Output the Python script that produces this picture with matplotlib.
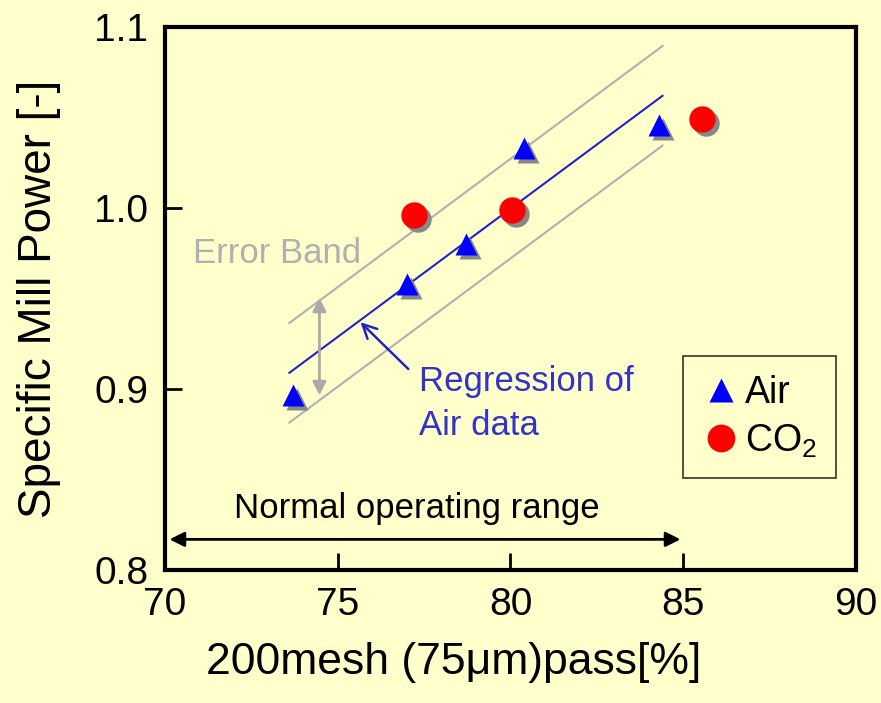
import matplotlib
matplotlib.use('Agg')
import matplotlib.pyplot as plt
from matplotlib.transforms import offset_copy

plt.rcParams['font.family'] = ['Liberation Sans', 'DejaVu Sans']
plt.rcParams['mathtext.fontset'] = 'custom'
plt.rcParams['mathtext.rm'] = 'Liberation Sans'

bg = '#FFFFCC'

# data
air_x = [73.7, 77.0, 78.7, 80.4, 84.3]
air_y = [0.897, 0.958, 0.980, 1.033, 1.046]
co2_x = [77.2, 80.05, 85.55]
co2_y = [0.996, 0.999, 1.049]

reg_x = [73.6, 84.4]
reg_y = [0.909, 1.062]
band = 0.0275

fig = plt.figure(figsize=(8.81, 7.03), dpi=100, facecolor=bg)
ax = fig.add_axes([0.1873, 0.189, 0.7843, 0.7726], facecolor=bg)

# band and regression
ax.plot(reg_x, [v + band for v in reg_y], color='#b0b0b0', lw=1.5)
ax.plot(reg_x, [v - band for v in reg_y], color='#b0b0b0', lw=1.5)
ax.plot(reg_x, reg_y, color='#2222cc', lw=1.5)

# markers with drop shadow
shadow = offset_copy(ax.transData, fig=fig, x=4, y=-4, units='dots')
ax.plot(air_x, air_y, '^', ms=16, color='#888888', mec='none', transform=shadow)
ax.plot(co2_x, co2_y, 'o', ms=19, color='#888888', mec='none', transform=shadow)
ax.plot(air_x, air_y, '^', ms=16, color='#0000ff', mec='none')
ax.plot(co2_x, co2_y, 'o', ms=19, color='#ff0000', mec='none')

# error band arrow
ax.annotate('', xy=(74.47, 0.952), xytext=(74.47, 0.895),
            arrowprops=dict(arrowstyle='<|-|>', color='#aaaaaa', lw=2, mutation_scale=20))
ax.text(70.8, 0.975, 'Error Band', color='#b0b0b0', fontsize=25, va='center', ha='left')

# regression label
ax.annotate('', xy=(75.6, 0.938), xytext=(77.1, 0.910),
            arrowprops=dict(arrowstyle='->', color='#2222cc', lw=1.8, mutation_scale=25))
ax.text(77.35, 0.892, 'Regression of\nAir data', color='#3333cc', fontsize=25,
        va='center', ha='left', linespacing=1.45)

# normal operating range
ax.annotate('', xy=(70.05, 0.817), xytext=(85.0, 0.817),
            arrowprops=dict(arrowstyle='<|-|>', color='black', lw=2, mutation_scale=22))
ax.text(77.3, 0.834, 'Normal operating range', fontsize=25, ha='center', va='center')

# legend
la, = ax.plot([], [], '^', ms=17, color='#0000ff', mec='none', label='Air')
lc, = ax.plot([], [], 'o', ms=20, color='#ff0000', mec='none', label='CO$_2$')
leg = ax.legend(handles=[la, lc], loc='lower right', bbox_to_anchor=(0.971, 0.169),
                borderaxespad=0, fontsize=27, frameon=True, fancybox=False,
                handletextpad=0.15, borderpad=0.5, handlelength=1.0, labelspacing=0.3)
leg.get_frame().set_facecolor(bg)
leg.get_frame().set_edgecolor('black')
leg.get_frame().set_linewidth(1.2)

ax.set_xlim(70, 90)
ax.set_ylim(0.8, 1.1)
ax.set_xticks([70, 75, 80, 85, 90])
ax.set_yticks([0.8, 0.9, 1.0, 1.1])
ax.set_yticklabels(['0.8', '0.9', '1.0', '1.1'])
ax.tick_params(direction='in', length=12, width=2, labelsize=28, pad=12)
for s in ax.spines.values():
    s.set_linewidth(3)

ax.set_xlabel('200mesh (75μm)pass[%]', fontsize=32, labelpad=14, x=0.418)
ax.set_ylabel('Specific Mill Power [-]', fontsize=33, labelpad=24)

fig.savefig('out.png', dpi=100, facecolor=bg)
